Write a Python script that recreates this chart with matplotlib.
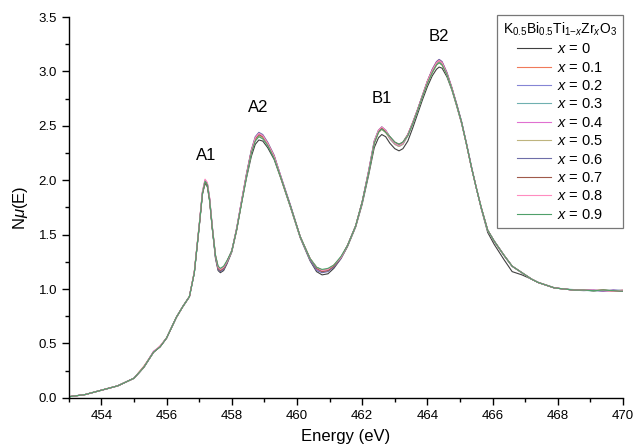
import matplotlib
matplotlib.use('Agg')
import matplotlib.pyplot as plt
from matplotlib.ticker import MultipleLocator, FormatStrFormatter

plt.rcParams['font.family'] = ['Liberation Sans', 'DejaVu Sans']
plt.rcParams['mathtext.fontset'] = 'custom'
plt.rcParams['mathtext.rm'] = 'Liberation Sans'
plt.rcParams['mathtext.it'] = 'Liberation Sans:italic'

# energy grid (eV), shared by all spectra
energy = [
    453.0, 453.5, 454.0, 454.5, 455.0, 455.3, 455.6, 455.8, 456.0, 456.3, 456.5,
    456.7, 456.85, 457.0, 457.1, 457.18, 457.25, 457.32, 457.4, 457.5, 457.58, 457.65,
    457.75, 457.85, 458.0, 458.15, 458.3, 458.45, 458.6, 458.72, 458.83, 458.95, 459.1,
    459.3, 459.5, 459.8, 460.1, 460.4, 460.6, 460.77, 460.95, 461.13, 461.35, 461.55,
    461.8, 462.0, 462.2, 462.37, 462.5, 462.6, 462.72, 462.85, 463.0, 463.13, 463.25,
    463.4, 463.55, 463.7, 463.85, 464.0, 464.15, 464.28, 464.36, 464.45, 464.6, 464.75,
    464.9, 465.05, 465.2, 465.35, 465.5, 465.65, 465.85, 466.05, 466.35, 466.6, 466.9,
    467.2, 467.4, 467.7, 467.9, 468.2, 468.5, 468.8, 469.1, 469.4, 469.7, 470.0,
]

mu_x00 = [
    0.01, 0.03, 0.07, 0.11, 0.18, 0.28, 0.42, 0.47, 0.55, 0.74, 0.84,
    0.93, 1.15, 1.58, 1.88, 1.97, 1.94, 1.81, 1.56, 1.28, 1.17, 1.15,
    1.17, 1.23, 1.34, 1.54, 1.79, 2.02, 2.22, 2.33, 2.37, 2.36, 2.30,
    2.19, 2.02, 1.75, 1.47, 1.26, 1.16, 1.13, 1.14, 1.19, 1.28, 1.39,
    1.57, 1.78, 2.05, 2.30, 2.39, 2.42, 2.40, 2.34, 2.29, 2.27, 2.29,
    2.36, 2.48, 2.61, 2.74, 2.86, 2.96, 3.02, 3.04, 3.03, 2.95, 2.83,
    2.68, 2.52, 2.33, 2.12, 1.93, 1.74, 1.52, 1.41, 1.27, 1.16, 1.13,
    1.09, 1.06, 1.03, 1.01, 1.00, 0.99, 0.99, 0.985, 0.99, 0.985, 0.98,
]
mu_x01 = [
    0.01, 0.03, 0.07, 0.11, 0.18, 0.29, 0.42, 0.47, 0.55, 0.74, 0.84,
    0.93, 1.16, 1.59, 1.89, 2.00, 1.97, 1.83, 1.58, 1.31, 1.20, 1.18,
    1.20, 1.25, 1.35, 1.55, 1.80, 2.04, 2.26, 2.37, 2.41, 2.40, 2.33,
    2.21, 2.03, 1.76, 1.48, 1.28, 1.20, 1.17, 1.18, 1.22, 1.29, 1.40,
    1.58, 1.80, 2.08, 2.34, 2.44, 2.47, 2.44, 2.39, 2.34, 2.32, 2.34,
    2.41, 2.52, 2.64, 2.77, 2.89, 2.99, 3.06, 3.08, 3.06, 2.97, 2.84,
    2.69, 2.53, 2.33, 2.12, 1.93, 1.75, 1.54, 1.44, 1.31, 1.21, 1.15,
    1.09, 1.06, 1.03, 1.01, 1.00, 0.99, 0.99, 0.985, 0.99, 0.98, 0.99,
]
mu_x02 = [
    0.01, 0.03, 0.07, 0.11, 0.18, 0.28, 0.42, 0.47, 0.55, 0.74, 0.84,
    0.93, 1.15, 1.58, 1.88, 1.99, 1.96, 1.82, 1.57, 1.30, 1.19, 1.17,
    1.19, 1.25, 1.35, 1.55, 1.81, 2.05, 2.27, 2.39, 2.43, 2.41, 2.34,
    2.22, 2.04, 1.76, 1.48, 1.27, 1.18, 1.16, 1.17, 1.21, 1.29, 1.40,
    1.58, 1.80, 2.08, 2.35, 2.45, 2.48, 2.45, 2.38, 2.33, 2.31, 2.33,
    2.41, 2.52, 2.65, 2.78, 2.91, 3.01, 3.08, 3.10, 3.08, 2.98, 2.85,
    2.69, 2.53, 2.33, 2.12, 1.93, 1.75, 1.54, 1.44, 1.31, 1.21, 1.15,
    1.09, 1.06, 1.03, 1.01, 1.00, 0.99, 0.995, 0.99, 0.98, 0.99, 0.985,
]
mu_x03 = [
    0.01, 0.03, 0.07, 0.11, 0.18, 0.28, 0.42, 0.47, 0.55, 0.74, 0.84,
    0.93, 1.15, 1.57, 1.87, 1.98, 1.95, 1.82, 1.57, 1.30, 1.20, 1.18,
    1.20, 1.25, 1.35, 1.55, 1.80, 2.04, 2.26, 2.38, 2.42, 2.40, 2.33,
    2.21, 2.03, 1.76, 1.48, 1.28, 1.20, 1.17, 1.18, 1.21, 1.29, 1.40,
    1.58, 1.80, 2.09, 2.36, 2.46, 2.49, 2.46, 2.40, 2.35, 2.33, 2.35,
    2.42, 2.52, 2.64, 2.77, 2.90, 3.00, 3.07, 3.09, 3.07, 2.97, 2.84,
    2.69, 2.53, 2.33, 2.12, 1.93, 1.75, 1.54, 1.44, 1.31, 1.21, 1.15,
    1.09, 1.06, 1.03, 1.01, 1.00, 0.995, 0.99, 0.98, 0.99, 0.985, 0.99,
]
mu_x04 = [
    0.01, 0.03, 0.07, 0.11, 0.18, 0.28, 0.43, 0.47, 0.55, 0.74, 0.84,
    0.93, 1.15, 1.58, 1.89, 2.00, 1.97, 1.83, 1.58, 1.30, 1.19, 1.17,
    1.19, 1.25, 1.35, 1.56, 1.81, 2.05, 2.27, 2.39, 2.43, 2.41, 2.34,
    2.22, 2.04, 1.77, 1.48, 1.27, 1.18, 1.16, 1.17, 1.21, 1.29, 1.40,
    1.58, 1.80, 2.08, 2.35, 2.45, 2.48, 2.45, 2.39, 2.34, 2.32, 2.34,
    2.42, 2.53, 2.65, 2.78, 2.91, 3.02, 3.09, 3.11, 3.09, 2.99, 2.85,
    2.70, 2.53, 2.33, 2.12, 1.93, 1.75, 1.54, 1.44, 1.31, 1.21, 1.15,
    1.09, 1.06, 1.03, 1.01, 1.00, 0.99, 0.99, 0.99, 0.98, 0.99, 0.98,
]
mu_x05 = [
    0.01, 0.03, 0.07, 0.11, 0.18, 0.28, 0.42, 0.47, 0.55, 0.74, 0.84,
    0.93, 1.15, 1.58, 1.88, 1.99, 1.96, 1.82, 1.57, 1.30, 1.20, 1.18,
    1.20, 1.25, 1.35, 1.55, 1.80, 2.04, 2.25, 2.37, 2.41, 2.39, 2.33,
    2.21, 2.03, 1.76, 1.48, 1.28, 1.20, 1.17, 1.18, 1.22, 1.29, 1.40,
    1.58, 1.80, 2.07, 2.34, 2.44, 2.47, 2.44, 2.38, 2.33, 2.31, 2.33,
    2.41, 2.52, 2.64, 2.77, 2.89, 2.99, 3.06, 3.08, 3.06, 2.97, 2.84,
    2.69, 2.53, 2.33, 2.12, 1.93, 1.75, 1.54, 1.44, 1.31, 1.21, 1.15,
    1.09, 1.06, 1.03, 1.01, 1.00, 0.99, 0.99, 0.985, 0.99, 0.985, 0.985,
]
mu_x06 = [
    0.01, 0.03, 0.07, 0.11, 0.18, 0.28, 0.42, 0.47, 0.55, 0.74, 0.84,
    0.93, 1.15, 1.58, 1.89, 2.00, 1.97, 1.83, 1.57, 1.29, 1.18, 1.16,
    1.18, 1.24, 1.35, 1.56, 1.81, 2.06, 2.28, 2.40, 2.44, 2.42, 2.35,
    2.23, 2.04, 1.77, 1.48, 1.27, 1.17, 1.15, 1.16, 1.20, 1.28, 1.40,
    1.58, 1.80, 2.09, 2.36, 2.46, 2.49, 2.46, 2.39, 2.34, 2.32, 2.34,
    2.42, 2.53, 2.65, 2.78, 2.91, 3.02, 3.09, 3.11, 3.09, 2.99, 2.85,
    2.70, 2.54, 2.34, 2.13, 1.93, 1.75, 1.54, 1.44, 1.31, 1.21, 1.15,
    1.09, 1.06, 1.03, 1.01, 1.00, 0.99, 0.985, 0.99, 0.98, 0.99, 0.985,
]
mu_x07 = [
    0.01, 0.03, 0.07, 0.11, 0.18, 0.28, 0.42, 0.47, 0.55, 0.74, 0.84,
    0.93, 1.15, 1.57, 1.87, 1.98, 1.95, 1.81, 1.56, 1.30, 1.19, 1.17,
    1.19, 1.25, 1.35, 1.55, 1.80, 2.05, 2.27, 2.38, 2.42, 2.40, 2.34,
    2.22, 2.03, 1.76, 1.48, 1.28, 1.19, 1.16, 1.17, 1.21, 1.29, 1.40,
    1.58, 1.80, 2.08, 2.35, 2.45, 2.48, 2.45, 2.40, 2.35, 2.33, 2.35,
    2.42, 2.53, 2.65, 2.78, 2.91, 3.01, 3.08, 3.10, 3.08, 2.98, 2.85,
    2.69, 2.53, 2.33, 2.12, 1.93, 1.75, 1.54, 1.44, 1.31, 1.21, 1.15,
    1.09, 1.06, 1.03, 1.01, 1.00, 0.99, 0.99, 0.985, 0.99, 0.98, 0.985,
]
mu_x08 = [
    0.01, 0.03, 0.07, 0.11, 0.18, 0.28, 0.42, 0.48, 0.55, 0.74, 0.84,
    0.93, 1.16, 1.59, 1.90, 2.01, 1.98, 1.84, 1.58, 1.31, 1.20, 1.18,
    1.20, 1.25, 1.35, 1.56, 1.81, 2.05, 2.27, 2.39, 2.43, 2.41, 2.34,
    2.22, 2.04, 1.76, 1.48, 1.28, 1.20, 1.17, 1.18, 1.22, 1.29, 1.40,
    1.58, 1.80, 2.09, 2.36, 2.46, 2.49, 2.46, 2.39, 2.34, 2.32, 2.34,
    2.42, 2.53, 2.65, 2.78, 2.91, 3.01, 3.08, 3.10, 3.08, 2.98, 2.85,
    2.69, 2.53, 2.33, 2.12, 1.93, 1.75, 1.54, 1.44, 1.31, 1.21, 1.15,
    1.09, 1.06, 1.03, 1.01, 1.00, 0.99, 0.99, 0.99, 0.985, 0.98, 0.99,
]
mu_x09 = [
    0.01, 0.03, 0.07, 0.11, 0.18, 0.28, 0.42, 0.47, 0.55, 0.74, 0.84,
    0.93, 1.15, 1.58, 1.88, 1.99, 1.96, 1.82, 1.57, 1.31, 1.21, 1.19,
    1.21, 1.26, 1.35, 1.55, 1.79, 2.03, 2.25, 2.36, 2.40, 2.38, 2.32,
    2.20, 2.03, 1.76, 1.48, 1.28, 1.20, 1.18, 1.19, 1.22, 1.30, 1.40,
    1.58, 1.80, 2.07, 2.34, 2.44, 2.47, 2.44, 2.40, 2.35, 2.33, 2.35,
    2.41, 2.52, 2.64, 2.77, 2.89, 2.99, 3.06, 3.08, 3.06, 2.97, 2.84,
    2.69, 2.53, 2.33, 2.12, 1.93, 1.75, 1.54, 1.44, 1.31, 1.21, 1.15,
    1.09, 1.06, 1.03, 1.01, 1.00, 0.99, 0.99, 0.985, 0.99, 0.985, 0.98,
]

series = [mu_x00, mu_x01, mu_x02, mu_x03, mu_x04,
          mu_x05, mu_x06, mu_x07, mu_x08, mu_x09]
labels = ['0', '0.1', '0.2', '0.3', '0.4', '0.5', '0.6', '0.7', '0.8', '0.9']
colors = ['#404040', '#f07a5a', '#8585d5', '#6fb0b0', '#e070d0',
          '#beb47e', '#6e6ea8', '#a05a4a', '#ff8cc0', '#4fa06a']

# peak labels
peak_names = ['A1', 'A2', 'B1', 'B2']
peak_pos = [(457.2, 2.23), (458.8, 2.67), (462.6, 2.75), (464.35, 3.32)]

fig, ax = plt.subplots(figsize=(6.37, 4.48), dpi=100)
fig.subplots_adjust(left=0.108, right=0.978, top=0.962, bottom=0.112)

for vals, lab, col in zip(series, labels, colors):
    ax.plot(energy, vals, color=col, lw=0.8, label=r'$x$ = ' + lab)

for name, (ex, ey) in zip(peak_names, peak_pos):
    ax.text(ex, ey, name, fontsize=12, ha='center', va='center')

ax.set_xlim(453, 470)
ax.set_ylim(0, 3.5)
ax.xaxis.set_major_locator(MultipleLocator(2))
ax.xaxis.set_minor_locator(MultipleLocator(1))
ax.yaxis.set_major_locator(MultipleLocator(0.5))
ax.yaxis.set_minor_locator(MultipleLocator(0.25))
ax.yaxis.set_major_formatter(FormatStrFormatter('%.1f'))
ax.tick_params(which='major', direction='out', length=5, width=1, labelsize=9.5)
ax.tick_params(which='minor', direction='out', length=3, width=1)
for s in ['top', 'right']:
    ax.spines[s].set_visible(False)
for s in ['left', 'bottom']:
    ax.spines[s].set_linewidth(1)

ax.set_xlabel('Energy (eV)', fontsize=12, labelpad=5)
ax.set_ylabel(r'N$\mu$(E)', fontsize=12, labelpad=6)

leg = ax.legend(title=r'K$_{0.5}$Bi$_{0.5}$Ti$_{1\mathrm{-}x}$Zr$_x$O$_3$',
                loc='upper right', bbox_to_anchor=(1.0, 1.006), fontsize=10.5,
                title_fontsize=10, frameon=True, fancybox=False,
                handlelength=2.3, handletextpad=0.4, labelspacing=0.3,
                borderpad=0.4, borderaxespad=0)
leg.get_frame().set_edgecolor('#555555')
leg.get_frame().set_linewidth(0.9)

fig.savefig('out.png', dpi=100)
